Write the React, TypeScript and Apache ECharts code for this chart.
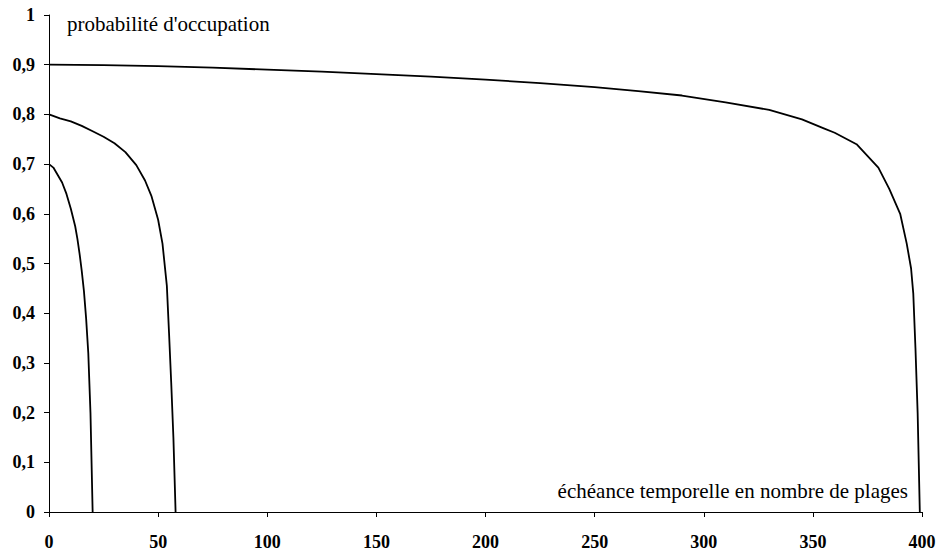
import React, { useEffect, useRef } from "react";
import * as echarts from "echarts";

// Curve starting at 0.7
const curveA_x = [0, 2, 4, 6, 8, 10, 12, 13, 14, 15, 16, 17, 18, 19, 20];
const curveA_y = [0.7, 0.693, 0.678, 0.663, 0.64, 0.61, 0.575, 0.55, 0.52, 0.485, 0.445, 0.39, 0.32, 0.2, 0];

// Curve starting at 0.8
const curveB_x = [0, 5, 10, 15, 20, 25, 30, 35, 40, 44, 47, 50, 52, 54, 55, 56, 57, 58];
const curveB_y = [0.8, 0.792, 0.786, 0.777, 0.766, 0.755, 0.742, 0.724, 0.698, 0.667, 0.635, 0.588, 0.54, 0.455, 0.36, 0.26, 0.15, 0];

// Curve starting at 0.9
const curveC_x = [0, 25, 50, 75, 100, 125, 150, 175, 200, 225, 250, 270, 290, 310, 330, 345, 355, 360, 370, 380, 385, 390, 393, 395, 396, 397, 398, 399];
const curveC_y = [0.9, 0.899, 0.897, 0.894, 0.89, 0.886, 0.881, 0.876, 0.87, 0.863, 0.855, 0.847, 0.838, 0.824, 0.809, 0.79, 0.772, 0.763, 0.74, 0.693, 0.65, 0.6, 0.54, 0.49, 0.44, 0.33, 0.2, 0];

const xTicks = [0, 50, 100, 150, 200, 250, 300, 350, 400];
const yTicks = [0, 0.1, 0.2, 0.3, 0.4, 0.5, 0.6, 0.7, 0.8, 0.9, 1];

const yTitle = "probabilité d'occupation";
const xTitle = "échéance temporelle en nombre de plages";

const FONT = '"Liberation Serif", "DejaVu Serif", serif';

function pairs(xs: number[], ys: number[]) {
  return xs.map((x, i) => [x, ys[i]]);
}

export default function App() {
  const ref = useRef<HTMLDivElement>(null);
  useEffect(() => {
    if (!ref.current) return;
    const chart = echarts.init(ref.current, null, { renderer: "svg" });
    const lineStyle = { color: "#000", width: 1.8 };
    chart.setOption({
      animation: false,
      backgroundColor: "#fff",
      textStyle: { fontFamily: FONT },
      grid: { left: 49, right: 24, top: 15, bottom: 40, containLabel: false },
      xAxis: {
        type: "value",
        min: xTicks[0],
        max: xTicks[xTicks.length - 1],
        interval: 50,
        axisLine: { show: true, onZero: false, lineStyle: { color: "#000", width: 1 } },
        axisTick: { show: true, inside: false, length: 5, lineStyle: { color: "#000" } },
        splitLine: { show: false },
        axisLabel: {
          margin: 21,
          color: "#000",
          fontFamily: FONT,
          fontSize: 18,
          fontWeight: "bold",
        },
      },
      yAxis: {
        type: "value",
        min: yTicks[0],
        max: yTicks[yTicks.length - 1],
        interval: 0.1,
        axisLine: { show: true, lineStyle: { color: "#000", width: 1 } },
        axisTick: { show: true, inside: false, length: 5, lineStyle: { color: "#000" } },
        splitLine: { show: false },
        axisLabel: {
          margin: 14,
          color: "#000",
          fontFamily: FONT,
          fontSize: 18,
          fontWeight: "bold",
          formatter: (v: number) => {
            const r = Math.round(v * 10) / 10;
            return String(r).replace(".", ",");
          },
        },
      },
      graphic: [
        {
          type: "text",
          left: 67,
          top: 13,
          style: { text: yTitle, fill: "#000", fontFamily: FONT, fontSize: 21 },
        },
        {
          type: "text",
          right: 38,
          top: 480,
          style: { text: xTitle, fill: "#000", fontFamily: FONT, fontSize: 21 },
        },
      ],
      series: [
        { type: "line", data: pairs(curveA_x, curveA_y), showSymbol: false, lineStyle, smooth: false },
        { type: "line", data: pairs(curveB_x, curveB_y), showSymbol: false, lineStyle, smooth: false },
        { type: "line", data: pairs(curveC_x, curveC_y), showSymbol: false, lineStyle, smooth: false },
      ],
    });
    return () => chart.dispose();
  }, []);
  return (
    <div
      ref={ref}
      style={{ position: "absolute", left: 0, top: 0, width: 946, height: 552 }}
    />
  );
}
